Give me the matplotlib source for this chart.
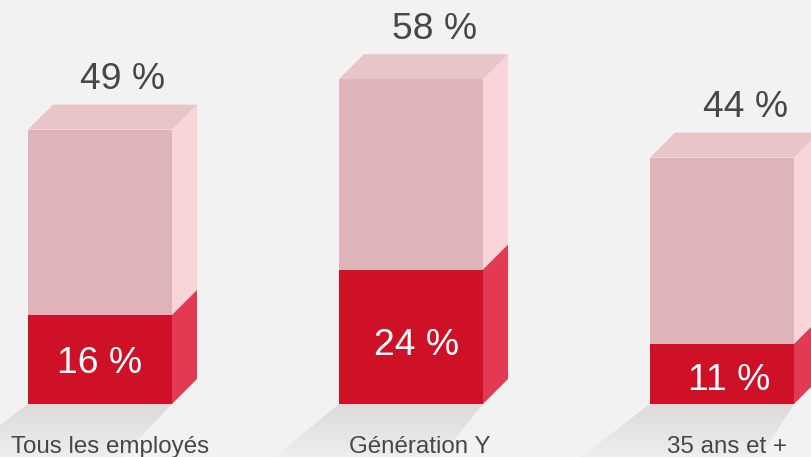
"""Recreate the 3D stacked percentage bars."""
import numpy as np
import matplotlib
matplotlib.use("Agg")
import matplotlib.pyplot as plt
from matplotlib.colors import LinearSegmentedColormap
from matplotlib.patches import Polygon

plt.rcParams["font.family"] = ["Liberation Sans", "DejaVu Sans"]

CATEGORIES = ["Tous les employés", "Génération Y", "35 ans et +"]
TOTALS = [49, 58, 44]
PARTS = [16, 24, 11]
PART_HEIGHTS = [15.9, 24, 10.7]   # hauteur, un peu sous l'étiquette

W, H = 812, 457
PX_PER_PCT = 5.6
BASE_Y = 404       # pixel row of the value 0
BAR_LEFT = [28, 339, 650]
BAR_W = 144
DEPTH = 25
DEPTH_PCT = DEPTH / PX_PER_PCT

# positions horizontales des textes et bas de l'ombre, en pixels
TOTAL_X = [123, 435, 746]
PART_X = [100, 417, 729]
LABEL_X = [110.5, 420, 727]
PART_Y_SHIFT = [-0.7, -1.6, -1.1]
SHADOW_LEFT = [-42, 275, 581]
SHADOW_RIGHT = [122, 440, 760]

BG = "#f2f2f2"
RED_FRONT, RED_SIDE = "#ce1126", "#e23a52"
PINK_FRONT, PINK_SIDE, PINK_TOP = "#dfb3ba", "#f9d5da", "#e8c5c8"
TEXT = "#474747"

fig = plt.figure(figsize=(W / 100, H / 100), dpi=100, facecolor=BG)
ax = fig.add_axes([0, 0, 1, 1])
ax.axis("off")
y_min = (BASE_Y - H) / PX_PER_PCT
y_max = BASE_Y / PX_PER_PCT


def box(x, low, high, front, side, top=None):
    ax.add_patch(Polygon([(x, low), (x + BAR_W, low), (x + BAR_W, high), (x, high)],
                         fc=front, ec="none", zorder=3))
    ax.add_patch(Polygon([(x + BAR_W, low), (x + BAR_W + DEPTH, low + DEPTH_PCT),
                          (x + BAR_W + DEPTH, high + DEPTH_PCT), (x + BAR_W, high)],
                         fc=side, ec="none", zorder=3))
    if top:
        ax.add_patch(Polygon([(x, high), (x + BAR_W, high),
                              (x + BAR_W + DEPTH, high + DEPTH_PCT), (x + DEPTH, high + DEPTH_PCT)],
                             fc=top, ec="none", zorder=3))


gradient = np.linspace(0, 1, 64).reshape(-1, 1)
shadow_cmap = LinearSegmentedColormap.from_list("shadow", ["#dadada", "#eeeeee"])

for i, x in enumerate(BAR_LEFT):
    total, part, height = TOTALS[i], PARTS[i], PART_HEIGHTS[i]

    # ombre au sol, en fondu vers le bas
    shadow = Polygon([(x, 0), (x + BAR_W, 0), (SHADOW_RIGHT[i], y_min), (SHADOW_LEFT[i], y_min)],
                     fc="none", ec="none")
    ax.add_patch(shadow)
    img = ax.imshow(gradient, extent=(SHADOW_LEFT[i], x + BAR_W, y_min, 0), aspect="auto",
                    cmap=shadow_cmap, zorder=1)
    img.set_clip_path(shadow)

    box(x, height, total, PINK_FRONT, PINK_SIDE, PINK_TOP)
    box(x, 0, height, RED_FRONT, RED_SIDE)

    ax.text(TOTAL_X[i], total + DEPTH_PCT + 1.3, f"{total} %", ha="center", va="bottom",
            fontsize=26.8, color=TEXT, zorder=4)
    ax.text(PART_X[i], height / 2 + PART_Y_SHIFT[i], f"{part} %", ha="center", va="center",
            fontsize=26.8, color="white", zorder=4)
    ax.text(LABEL_X[i], -7.65, CATEGORIES[i], ha="center", va="center",
            fontsize=17.4, color=TEXT, zorder=4)

ax.set_xlim(0, W)
ax.set_ylim(y_min, y_max)
fig.savefig("out.png", dpi=100, facecolor=BG)
